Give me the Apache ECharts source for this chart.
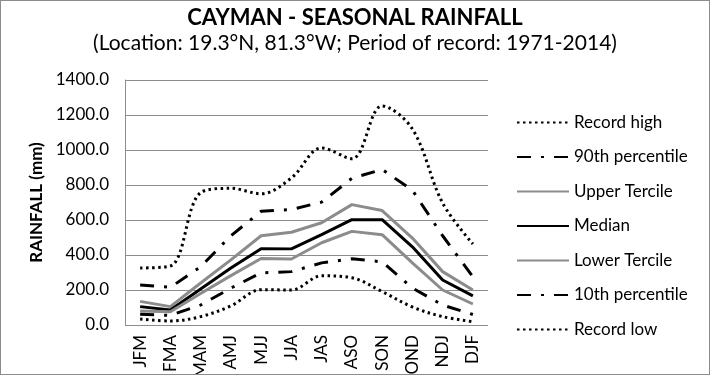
<!DOCTYPE html>
<html>
<head>
<meta charset="utf-8">
<script src="https://cdn.jsdelivr.net/npm/echarts@6/dist/echarts.min.js"></script>
<style>
  html, body { margin: 0; padding: 0; background: #fff; }
  #chart { width: 708px; height: 373px; border: 1px solid #8c8c8c; }
</style>
</head>
<body>
<div id="chart"></div>
<script>
// seasons
const seasons = ['JFM', 'FMA', 'MAM', 'AMJ', 'MJJ', 'JJA', 'JAS', 'ASO', 'SON', 'OND', 'NDJ', 'DJF']
const yTicks = [0, 200, 400, 600, 800, 1000, 1200, 1400]

// rainfall values (mm)
const recordHigh = [326, 337, 756, 781, 750, 840, 1012, 950, 1252, 1120, 697, 463]
const p90 = [229, 215, 333, 510, 650, 660, 702, 838, 889, 770, 510, 275]
const upperTercile = [135, 105, 240, 372, 510, 530, 584, 688, 654, 497, 305, 200]
const median = [105, 86, 206, 326, 436, 435, 516, 602, 602, 447, 257, 166]
const lowerTercile = [80, 76, 180, 282, 380, 377, 470, 535, 516, 355, 200, 120]
const p10 = [61, 55, 114, 211, 298, 305, 355, 378, 361, 211, 114, 60]
const recordLow = [34, 23, 48, 109, 202, 200, 281, 270, 191, 103, 48, 19]

const dotted = { type: [2.5, 3.5], width: 3, color: '#000' }
const dashDot = { type: [14, 10, 3, 10], width: 3, color: '#000' }
const grey = { type: 'solid', width: 3, color: '#8c8c8c' }
const black = { type: 'solid', width: 3, color: '#000' }

function line(name, data, style, smooth) {
    return {
        name: name,
        type: 'line',
        data: data,
        smooth: smooth ? 0.35 : false,
        showSymbol: false,
        symbol: 'none',
        lineStyle: style,
        itemStyle: { color: style.color }
    }
}

const chart = echarts.init(document.getElementById('chart'))
chart.setOption({
    animation: false,
    textStyle: { fontFamily: 'Lato, "Open Sans", sans-serif' },
    title: {
        text: 'CAYMAN - SEASONAL RAINFALL',
        subtext: '(Location: 19.3°N, 81.3°W; Period of record: 1971-2014)',
        left: 'center',
        top: 1,
        itemGap: 4,
        textStyle: { fontSize: 22, fontWeight: 'bold', color: '#000' },
        subtextStyle: { fontSize: 21, color: '#000' }
    },
    legend: {
        orient: 'vertical',
        left: 510,
        top: 108,
        itemWidth: 52,
        itemHeight: 14,
        itemGap: 17.5,
        itemStyle: { opacity: 0 },
        textStyle: { fontSize: 17, color: '#000' },
        data: ['Record high', '90th percentile', 'Upper Tercile', 'Median', 'Lower Tercile', '10th percentile', 'Record low']
    },
    grid: { left: 124, right: 221, top: 79, bottom: 49, outerBoundsMode: 'none' },
    xAxis: {
        type: 'category',
        data: seasons,
        boundaryGap: true,
        axisLine: { show: false },
        axisTick: { show: false },
        axisLabel: { rotate: 90, fontSize: 17, color: '#000', margin: 10 }
    },
    yAxis: {
        type: 'value',
        min: yTicks[0],
        max: yTicks[yTicks.length - 1],
        interval: 200,
        name: 'RAINFALL (mm)',
        nameLocation: 'middle',
        nameGap: 80,
        nameTextStyle: { fontSize: 17, fontWeight: 'bold', color: '#000' },
        axisLine: { show: true, lineStyle: { color: '#8c8c8c', width: 1 } },
        axisTick: { show: false },
        splitLine: { lineStyle: { color: '#8c8c8c', width: 1 } },
        axisLabel: { fontSize: 17, color: '#000', margin: 16, formatter: v => v.toFixed(1) }
    },
    series: [
        line('Record high', recordHigh, dotted, true),
        line('90th percentile', p90, dashDot, false),
        line('Upper Tercile', upperTercile, grey, false),
        line('Median', median, black, false),
        line('Lower Tercile', lowerTercile, grey, false),
        line('10th percentile', p10, dashDot, false),
        line('Record low', recordLow, dotted, true)
    ]
})
</script>
</body>
</html>
